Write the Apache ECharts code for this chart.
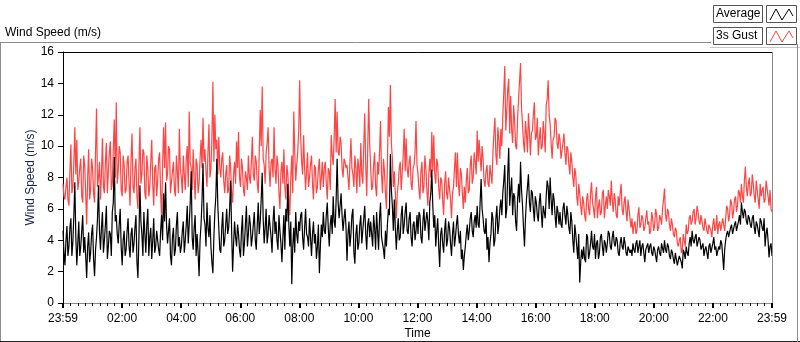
<!DOCTYPE html>
<html>
<head>
<meta charset="utf-8">
<script src="https://cdn.jsdelivr.net/npm/echarts@6/dist/echarts.min.js"></script>
<style>
html,body{margin:0;padding:0;background:#fff;}
#chart{width:800px;height:342px;}
</style>
</head>
<body>
<div id="chart"></div>
<script>
// Tick labels of the time axis (hours from 23:59 start, every 2 h)
const xLabels = ['23:59','02:00','04:00','06:00','08:00','10:00','12:00','14:00','16:00','18:00','20:00','22:00','23:59'];
const yTicks = [0,2,4,6,8,10,12,14,16];
const seriesNames = ['Average','3s Gust'];

// 3s Gust (m/s): readings at even 2-minute slots
const gust = [
7.6,6.6,8.0,6.2,10.1,7.4,11.2,10.4,7.8,9.2,6.4,8.8,
5.0,9.8,7.2,8.6,6.4,12.4,8.0,6.6,10.5,7.0,10.2,8.4,
10.3,7.6,11.7,12.8,8.4,9.6,6.8,8.8,7.2,9.4,6.2,10.8,
7.0,9.2,6.0,11.2,8.2,9.6,6.6,8.6,7.4,10.4,6.2,8.8,
7.8,9.6,5.4,11.2,11.5,8.2,9.8,7.0,9.0,6.8,8.4,11.1,
8.0,9.4,7.2,10.0,12.2,8.6,9.8,6.6,8.8,7.6,10.4,11.8,
9.8,7.4,11.4,8.6,14.1,12.0,10.4,10.6,8.0,9.6,7.0,8.8,
7.2,8.6,6.4,9.0,10.3,10.9,7.4,8.6,6.8,8.0,9.4,7.6,
10.6,7.8,9.0,7.0,12.3,13.8,8.8,9.6,11.2,7.4,9.2,11.2,
7.6,8.8,6.0,9.0,9.8,6.6,8.2,5.6,9.4,12.2,7.8,9.6,
14.2,9.0,10.7,7.2,9.6,8.0,9.4,6.6,8.6,7.4,9.2,8.0,
7.4,9.0,6.6,8.4,10.7,8.8,13.0,12.2,9.4,10.2,8.0,9.0,
8.8,7.2,10.5,8.2,9.4,7.0,8.6,10.2,7.6,12.1,6.8,13.0,
8.6,7.4,9.6,6.8,8.2,11.6,7.0,8.4,6.0,12.5,13.9,9.2,
8.4,5.4,7.6,9.0,7.2,11.1,10.5,8.0,9.4,7.2,8.8,11.6,
8.2,6.6,9.0,7.4,8.6,6.2,9.2,10.9,10.7,7.6,8.8,6.6,
7.8,5.6,8.4,6.6,8.0,5.4,7.4,9.6,9.6,6.8,8.2,6.0,
6.4,8.6,7.2,9.4,8.0,9.0,11.0,10.4,8.4,9.2,7.4,8.8,
7.4,8.2,9.6,11.8,8.8,10.4,11.1,11.9,15.1,12.2,14.3,13.2,
10.2,11.6,9.8,13.0,15.3,11.4,9.6,10.8,12.1,9.4,11.0,12.8,
10.6,9.4,11.2,10.0,10.8,12.6,14.2,11.4,9.2,10.6,11.6,9.8,
10.4,9.2,10.8,8.8,9.8,8.2,9.0,7.4,8.2,6.2,7.0,5.6,
6.4,5.2,7.0,5.6,7.7,6.0,6.8,5.4,6.6,5.8,7.2,6.2,
6.0,6.8,7.8,5.8,6.6,5.4,6.2,7.6,5.6,6.8,5.2,6.0,
4.8,4.4,5.2,4.6,6.1,5.0,5.4,4.8,5.9,5.2,4.6,5.4,
5.0,5.6,4.8,5.4,6.0,7.3,5.2,5.8,4.6,5.0,4.2,4.6,
3.6,4.2,3.4,4.0,5.0,4.6,5.6,5.2,6.0,5.4,5.8,5.0,
5.2,4.6,5.4,4.4,5.0,4.2,5.4,4.8,4.4,5.2,4.6,5.0,
5.4,6.0,5.6,6.4,5.8,6.8,6.2,7.0,7.6,6.4,8.7,6.8,
8.0,7.0,7.6,6.4,7.2,6.0,6.8,7.4,6.6,7.7,6.2,6.0
];
// 3s Gust (m/s): readings at the odd 2-minute slots in between
const gustMid = [
6.8,7.4,6.6,8.4,7.0,9.0,8.2,7.2,8.6,6.8,9.4,7.0,
8.0,6.6,9.2,7.0,9.6,7.4,9.0,8.2,7.4,9.0,7.0,9.6,
7.2,9.8,8.0,7.6,10.0,7.2,9.4,7.0,9.0,7.6,9.2,7.4,
8.6,6.8,8.8,7.6,9.8,7.0,9.4,6.8,9.0,7.6,8.6,6.8,
9.2,7.0,8.8,8.6,7.8,10.0,7.0,8.4,7.2,9.4,7.0,8.6,
7.0,8.2,9.2,7.4,9.0,7.2,8.0,9.2,7.0,9.2,8.6,9.0,
8.4,9.6,8.0,10.4,9.0,9.8,8.2,8.6,9.2,7.8,8.2,7.0,
9.4,7.0,8.2,7.6,8.6,8.0,9.2,7.2,8.4,7.2,8.0,9.0,
8.2,9.4,7.6,9.6,10.0,9.2,7.6,10.2,8.6,9.0,8.0,8.6,
9.4,7.0,8.4,7.6,7.4,8.8,6.8,8.0,7.0,9.6,8.8,11.0,
10.6,8.2,8.6,8.4,7.4,8.8,7.6,8.8,7.0,8.6,7.2,9.0,
8.6,7.6,8.6,7.2,9.4,10.6,9.6,9.6,10.6,8.6,9.2,8.6,
8.0,9.0,8.6,7.4,8.6,9.2,7.4,8.2,10.0,8.8,9.8,10.2,
7.2,8.8,7.4,9.0,9.6,8.2,9.2,7.0,9.0,10.6,10.2,7.4,
7.0,7.0,8.6,7.2,9.4,8.4,8.6,9.0,7.6,8.6,9.6,8.8,
7.2,8.4,7.0,9.4,7.2,8.2,8.0,8.4,8.2,9.2,7.4,8.0,
6.6,7.6,7.0,8.0,6.6,7.0,8.6,7.4,7.6,8.6,7.0,7.4,
7.8,7.0,8.8,7.6,9.6,8.2,9.0,9.4,10.0,7.8,8.4,7.6,
8.8,7.6,10.8,9.4,11.2,9.2,10.0,13.4,11.0,13.6,10.8,11.0,
12.6,10.0,11.8,14.2,12.4,10.2,11.6,9.6,11.0,10.8,12.0,10.4,
11.8,10.4,9.8,11.6,9.6,13.0,12.0,10.2,10.4,11.8,10.2,10.8,
9.2,10.2,9.6,10.0,8.8,9.6,8.0,8.6,6.8,7.6,6.2,6.8,
5.6,6.6,6.0,7.0,6.4,5.4,7.4,6.2,5.6,7.0,5.4,6.8,
7.2,6.2,6.6,7.0,5.6,6.8,7.0,6.0,6.4,5.8,6.6,5.4,
5.4,5.0,4.4,5.6,4.8,5.6,4.6,5.4,5.0,4.4,5.8,4.6,
6.0,4.6,5.6,5.0,6.6,5.6,6.0,5.0,5.4,4.4,4.8,3.8,
4.0,3.2,4.4,3.6,4.4,5.4,5.0,5.8,5.0,6.2,5.2,5.6,
4.8,5.4,4.6,5.0,4.6,5.0,4.6,5.6,5.0,4.6,5.4,4.6,
6.2,5.2,6.6,5.4,6.6,5.8,7.2,6.4,6.8,7.8,7.4,7.6,
6.8,8.2,6.8,7.8,6.6,7.6,7.2,6.4,7.8,6.8,7.2,5.8
];

// Average (m/s): readings at even 2-minute slots
const avg = [
4.6,2.4,4.9,3.6,5.4,3.9,7.7,2.4,5.2,3.6,5.6,4.2,
1.6,4.5,3.2,5.0,1.7,4.2,7.5,3.4,5.8,4.0,6.2,3.6,
4.4,5.8,9.3,5.6,3.8,6.0,2.4,4.6,3.4,5.4,2.9,4.8,
3.8,5.6,1.6,7.5,4.4,5.8,3.2,6.0,4.2,2.8,5.4,3.6,
4.6,3.0,5.6,7.0,7.7,3.8,5.4,2.4,4.8,3.4,5.8,4.2,
3.6,5.2,4.0,6.2,5.0,8.4,3.4,5.6,4.4,1.7,5.0,8.9,
5.0,6.4,4.2,3.6,1.9,5.8,9.2,4.8,3.2,5.8,4.0,6.0,
4.8,7.8,2.0,5.2,3.6,4.4,2.9,5.6,3.8,6.2,4.4,5.0,
4.2,5.8,3.4,6.4,5.2,8.3,3.8,6.0,4.4,5.6,3.2,6.2,
5.2,3.4,4.6,2.6,5.6,6.0,7.6,3.6,1.2,4.8,5.8,3.8,
4.6,5.8,3.4,6.0,4.2,5.4,3.0,5.2,4.4,3.6,1.9,5.0,
5.8,4.4,6.4,3.6,5.6,6.8,4.8,9.2,5.4,7.0,4.6,6.0,
2.7,5.2,4.4,6.0,2.5,5.0,3.8,5.6,4.6,6.2,3.4,5.4,
5.2,3.6,4.8,5.8,3.4,6.4,4.2,2.8,3.6,6.0,9.5,6.2,
6.6,3.4,5.4,4.2,6.2,5.0,6.4,4.4,5.8,3.6,5.2,4.6,
4.4,5.6,3.8,6.0,4.6,5.2,6.4,8.5,4.8,3.6,5.4,2.3,
4.8,3.2,5.4,4.0,4.8,3.0,5.2,4.2,5.6,3.8,2.8,2.1,
3.6,5.0,4.6,5.8,4.2,5.6,6.2,4.8,7.9,5.4,4.4,3.4,
2.6,4.4,5.4,4.0,6.2,5.0,6.6,7.0,8.8,6.0,9.9,7.2,
5.6,6.8,4.6,7.6,9.0,6.2,3.6,6.6,8.2,5.8,7.0,5.2,
6.4,5.2,7.0,4.8,6.2,6.8,7.4,8.0,5.6,6.6,4.8,5.8,
5.8,4.8,6.4,5.0,5.6,4.4,5.2,3.2,4.4,2.8,1.3,3.4,
3.6,2.6,4.2,3.2,4.6,3.4,2.8,4.0,3.2,4.4,3.0,3.8,
3.8,4.4,3.4,4.6,3.6,4.0,3.0,4.2,3.4,3.8,3.0,3.6,
3.4,3.8,3.2,4.0,3.6,3.0,3.8,2.6,3.4,3.2,3.8,3.0,
3.4,2.6,3.6,3.0,3.8,4.0,3.2,3.6,2.8,3.2,2.5,2.8,
2.4,3.0,2.2,3.2,3.6,3.0,4.2,4.6,3.8,4.4,3.6,4.0,
3.4,3.0,3.6,2.8,3.8,3.2,4.2,3.6,3.0,3.4,3.8,2.1,
4.0,4.6,4.2,5.0,4.4,5.2,4.6,5.6,6.4,5.4,5.8,5.0,
5.4,4.8,5.6,4.4,5.0,4.2,5.2,4.6,3.6,4.8,2.9,3.8
];
// Average (m/s): readings at the odd 2-minute slots in between
const avgMid = [
3.2,4.0,3.0,4.8,3.0,5.6,4.2,3.8,3.0,4.6,3.2,3.0,
3.6,2.6,4.4,2.8,3.4,5.4,4.6,4.8,3.2,5.0,2.8,4.6,
3.0,6.4,5.2,4.4,5.0,3.6,4.0,3.0,4.6,3.6,4.4,3.2,
4.8,2.6,4.2,5.2,3.0,4.4,5.0,3.0,4.8,4.0,3.2,4.6,
3.4,4.6,4.0,5.2,5.0,4.6,3.0,4.2,3.0,5.0,3.6,3.2,
4.6,3.2,5.0,3.8,6.4,4.2,4.8,3.0,3.2,4.0,6.6,5.4,
3.6,4.8,5.6,2.6,4.2,6.8,6.2,3.4,4.8,3.6,5.0,4.4,
6.0,4.6,3.8,4.2,5.0,3.4,4.6,3.0,5.0,3.6,5.6,3.6,
5.0,4.0,5.0,4.4,6.6,5.4,4.8,3.8,5.6,4.2,5.2,4.4,
4.0,5.6,3.8,4.2,3.4,5.2,5.0,5.2,3.6,3.2,4.4,5.2,
5.6,4.2,4.8,4.4,3.6,4.2,4.4,3.8,2.8,5.0,3.6,4.2,
4.6,5.6,4.8,5.0,4.4,5.2,6.6,6.4,6.2,5.6,5.4,4.8,
4.4,3.6,5.6,3.2,4.4,3.4,5.0,3.8,5.4,4.4,5.0,4.2,
4.4,5.6,3.4,4.6,5.4,4.2,3.4,4.6,5.0,5.6,7.2,4.6,
4.8,4.6,4.0,5.6,4.4,5.8,4.6,5.4,4.2,5.0,4.0,5.6,
5.8,4.2,5.2,4.6,5.8,4.0,7.0,6.2,5.6,4.6,3.6,4.4,
3.8,4.6,3.6,5.2,3.8,4.4,3.6,5.0,4.4,4.6,3.4,3.0,
4.4,4.0,5.4,4.6,5.2,4.8,5.0,6.4,6.0,4.6,5.4,4.2,
3.8,5.8,3.6,5.4,4.4,6.0,5.6,7.8,5.4,8.2,6.2,8.0,
7.0,5.2,6.6,6.4,7.2,4.8,5.4,7.4,6.4,7.2,6.0,6.8,
5.6,6.4,5.8,6.2,5.4,7.8,6.0,6.6,7.0,5.6,6.2,5.0,
5.0,6.0,5.6,6.2,4.8,5.8,4.0,5.0,3.6,4.4,2.6,2.8,
2.8,4.4,2.8,3.8,3.6,4.4,3.8,2.8,4.2,3.6,4.0,3.2,
4.6,3.6,4.2,3.8,4.2,3.2,3.8,3.6,4.2,3.2,3.6,3.2,
3.0,3.4,3.8,3.2,4.0,3.6,3.2,3.4,3.8,3.6,3.2,3.6,
3.0,3.4,3.2,3.8,3.2,3.4,3.8,3.0,3.4,2.8,3.2,2.4,
3.0,2.6,3.4,2.8,3.2,3.8,3.6,4.0,4.2,3.6,4.2,3.4,
3.8,3.4,3.2,3.6,3.2,3.8,3.4,3.0,3.6,4.0,3.0,3.4,
4.4,4.2,4.8,4.4,5.0,4.6,5.2,5.0,5.8,6.0,5.2,5.6,
5.0,5.4,4.8,5.2,4.6,5.4,4.8,5.4,4.4,4.0,3.6,3.0
];

const FONT = 'Liberation Sans';
// Merge even-slot and odd-slot readings into one time-ordered series (x in hours)
function toXY(even, odd) {
  const n = even.length + odd.length;
  const out = [];
  for (let i = 0; i < even.length; i++) {
    out.push([(2 * i) * 24 / (n - 1), even[i]]);
    out.push([(2 * i + 1) * 24 / (n - 1), odd[i]]);
  }
  return out;
}

const chart = echarts.init(document.getElementById('chart'), null, {renderer: 'canvas'});

function legendItem(y, name, color) {
  return [
    {type:'rect', shape:{x:713.5, y:y+0.5, width:49, height:17}, style:{fill:'#fff', stroke:'#555', lineWidth:1}, z:10},
    {type:'text', x:716, y:y+3, style:{text:name, font:'12px ' + FONT, fill:'#000'}, z:11},
    {type:'rect', shape:{x:766.5, y:y+0.5, width:30, height:17}, style:{fill:'#fff', stroke:'#555', lineWidth:1}, z:10},
    {type:'polyline', shape:{points:[[770,y+15],[776,y+4],[782,y+15],[789,y+4],[793,y+11]]}, style:{stroke:color, lineWidth:1, fill:null}, z:11}
  ];
}

const option = {
  backgroundColor: '#fff',
  animation: false,
  grid: {left: 63, right: 28, top: 52, bottom: 39, show: false, containLabel: false, outerBoundsMode: 'none'},
  xAxis: {
    type: 'value', min: 0, max: 24, interval: 2,
    name: 'Time', nameLocation: 'middle', nameGap: 25, nameMoveOverlap: false,
    nameTextStyle: {fontFamily: FONT, fontSize: 12, color: '#000'},
    axisLine: {show: true, lineStyle: {color: '#8a8a8a', width: 1}},
    axisTick: {show: true, inside: false, length: 5, lineStyle: {color: '#000', width: 2}},
    minorTick: {show: true, splitNumber: 8, length: 3, lineStyle: {color: '#000', width: 1}},
    axisLabel: {fontFamily: FONT, fontSize: 12, color: '#000', margin: 10,
      formatter: v => xLabels[Math.round(v / 2)]},
    splitLine: {show: false}, minorSplitLine: {show: false}
  },
  yAxis: {
    type: 'value', min: yTicks[0], max: yTicks[yTicks.length - 1], interval: 2,
    name: 'Wind Speed (m/s)', nameLocation: 'middle', nameGap: 26, nameRotate: 90, nameMoveOverlap: false,
    nameTextStyle: {fontFamily: FONT, fontSize: 12, color: '#1a2340'},
    axisLine: {show: true, lineStyle: {color: '#000', width: 1}},
    axisTick: {show: true, inside: false, length: 5, lineStyle: {color: '#000'}},
    axisLabel: {fontFamily: FONT, fontSize: 12, color: '#000', margin: 9},
    splitLine: {show: false}
  },
  series: [
    {name: seriesNames[1], type: 'line', data: toXY(gust, gustMid), showSymbol: false, symbol: 'none',
     lineStyle: {color: '#ff4444', width: 1.2}, z: 2},
    {name: seriesNames[0], type: 'line', data: toXY(avg, avgMid), showSymbol: false, symbol: 'none',
     lineStyle: {color: '#000', width: 1.2}, z: 3}
  ],
  graphic: [
    {type:'text', x:5, y:27, style:{text:'Wind Speed (m/s)', font:'12px ' + FONT, fill:'#000'}},
    {type:'line', shape:{x1:0, y1:42.5, x2:711, y2:42.5}, style:{stroke:'#8c8c8c', lineWidth:1}},
    {type:'line', shape:{x1:710, y1:47.5, x2:800, y2:47.5}, style:{stroke:'#c8c8c8', lineWidth:1}},
    {type:'line', shape:{x1:0.5, y1:42, x2:0.5, y2:342}, style:{stroke:'#8c8c8c', lineWidth:1}},
    {type:'line', shape:{x1:0, y1:341.5, x2:800, y2:341.5}, style:{stroke:'#222', lineWidth:1}},
    {type:'line', shape:{x1:797.5, y1:44, x2:797.5, y2:342}, style:{stroke:'#8c8c8c', lineWidth:1}},
    {type:'line', shape:{x1:63, y1:52.5, x2:772, y2:52.5}, style:{stroke:'#000', lineWidth:1}, z:50},
    {type:'line', shape:{x1:772.5, y1:52, x2:772.5, y2:303}, style:{stroke:'#8a8a8a', lineWidth:1}, z:50}
  ].concat(legendItem(5, seriesNames[0], '#000'), legendItem(27, seriesNames[1], '#ff4444'))
};
chart.setOption(option);
</script>
</body>
</html>
